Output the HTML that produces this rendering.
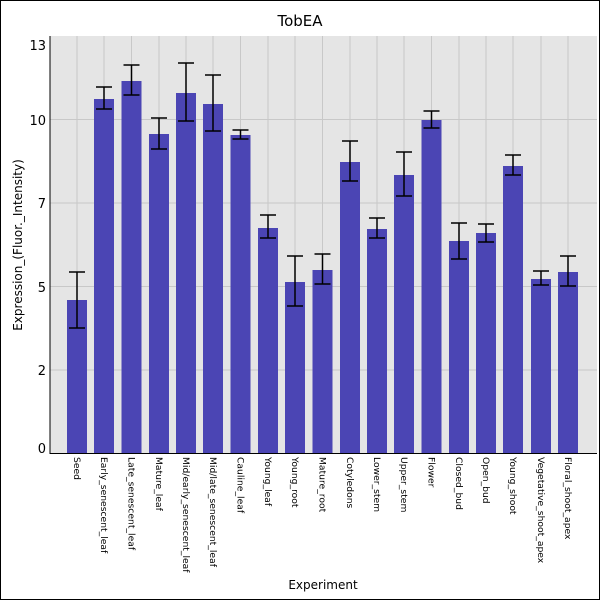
<!DOCTYPE html>
<html><head><meta charset="utf-8"><style>body{margin:0;background:#fff}svg{display:block}</style></head>
<body>
<svg width="600" height="600" xmlns="http://www.w3.org/2000/svg" font-family="DejaVu Sans, Liberation Sans, sans-serif">
<rect x="0.5" y="0.5" width="599" height="599" fill="#fff" stroke="#000"/>
<text x="300" y="26" font-size="15" text-anchor="middle">TobEA</text>
<rect x="50" y="36" width="547" height="417" fill="#e5e5e5"/>
<g stroke="#c8c8c8" stroke-width="1">
<line x1="50" x2="597" y1="119.5" y2="119.5"/><line x1="50" x2="597" y1="203" y2="203"/><line x1="50" x2="597" y1="286.5" y2="286.5"/><line x1="50" x2="597" y1="370" y2="370"/>
<line y1="36" y2="453" x1="77" x2="77"/><line y1="36" y2="453" x1="104" x2="104"/><line y1="36" y2="453" x1="131.5" x2="131.5"/><line y1="36" y2="453" x1="159" x2="159"/><line y1="36" y2="453" x1="186" x2="186"/><line y1="36" y2="453" x1="213" x2="213"/><line y1="36" y2="453" x1="240.5" x2="240.5"/><line y1="36" y2="453" x1="268" x2="268"/><line y1="36" y2="453" x1="295" x2="295"/><line y1="36" y2="453" x1="322.5" x2="322.5"/><line y1="36" y2="453" x1="350" x2="350"/><line y1="36" y2="453" x1="377" x2="377"/><line y1="36" y2="453" x1="404" x2="404"/><line y1="36" y2="453" x1="431.5" x2="431.5"/><line y1="36" y2="453" x1="459" x2="459"/><line y1="36" y2="453" x1="486" x2="486"/><line y1="36" y2="453" x1="513" x2="513"/><line y1="36" y2="453" x1="541" x2="541"/><line y1="36" y2="453" x1="568" x2="568"/>
</g>
<g fill="#4b45b4">
<rect x="67" y="300" width="20" height="153"/><rect x="94" y="99" width="20" height="354"/><rect x="121.5" y="81" width="20" height="372"/><rect x="149" y="134" width="20" height="319"/><rect x="176" y="93" width="20" height="360"/><rect x="203" y="104" width="20" height="349"/><rect x="230.5" y="135" width="20" height="318"/><rect x="258" y="228" width="20" height="225"/><rect x="285" y="282" width="20" height="171"/><rect x="312.5" y="270" width="20" height="183"/><rect x="340" y="162" width="20" height="291"/><rect x="367" y="229" width="20" height="224"/><rect x="394" y="175" width="20" height="278"/><rect x="421.5" y="120" width="20" height="333"/><rect x="449" y="241" width="20" height="212"/><rect x="476" y="233" width="20" height="220"/><rect x="503" y="166" width="20" height="287"/><rect x="531" y="279" width="20" height="174"/><rect x="558" y="272" width="20" height="181"/>
</g>
<g stroke="#000" stroke-width="1.5" fill="none">
<path d="M77 272V328M69 272H85M69 328H85"/>
<path d="M104 87V109M96 87H112M96 109H112"/>
<path d="M131.5 65V95M123.5 65H139.5M123.5 95H139.5"/>
<path d="M159 118V149M151 118H167M151 149H167"/>
<path d="M186 63V121M178 63H194M178 121H194"/>
<path d="M213 75V131M205 75H221M205 131H221"/>
<path d="M240.5 130V139M232.5 130H248.5M232.5 139H248.5"/>
<path d="M268 215V238M260 215H276M260 238H276"/>
<path d="M295 256V306M287 256H303M287 306H303"/>
<path d="M322.5 254V284M314.5 254H330.5M314.5 284H330.5"/>
<path d="M350 141V181M342 141H358M342 181H358"/>
<path d="M377 218V238M369 218H385M369 238H385"/>
<path d="M404 152V196M396 152H412M396 196H412"/>
<path d="M431.5 111V128M423.5 111H439.5M423.5 128H439.5"/>
<path d="M459 223V259M451 223H467M451 259H467"/>
<path d="M486 224V242M478 224H494M478 242H494"/>
<path d="M513 155V175M505 155H521M505 175H521"/>
<path d="M541 271V285M533 271H549M533 285H549"/>
<path d="M568 256V286M560 256H576M560 286H576"/>
</g>
<line x1="50" y1="36" x2="50" y2="454" stroke="#000"/>
<line x1="50" y1="453.5" x2="597" y2="453.5" stroke="#000"/>
<g font-size="13" text-anchor="end">
<text x="46" y="50">13</text><text x="46" y="125">10</text><text x="46" y="208">7</text><text x="46" y="292">5</text><text x="46" y="375">2</text><text x="46" y="453">0</text>
</g>
<text transform="translate(22,245) rotate(-90)" font-size="12" text-anchor="middle">Expression_(Fluor._Intensity)</text>
<text x="323" y="589" font-size="12" text-anchor="middle">Experiment</text>
<g font-size="9.2">
<text transform="translate(74,457) rotate(90)">Seed</text>
<text transform="translate(101,457) rotate(90)">Early_senescent_leaf</text>
<text transform="translate(128.5,457) rotate(90)">Late_senescent_leaf</text>
<text transform="translate(156,457) rotate(90)">Mature_leaf</text>
<text transform="translate(183,457) rotate(90)">Mid/early_senescent_leaf</text>
<text transform="translate(210,457) rotate(90)">Mid/late_senescent_leaf</text>
<text transform="translate(237.5,457) rotate(90)">Cauline_leaf</text>
<text transform="translate(265,457) rotate(90)">Young_leaf</text>
<text transform="translate(292,457) rotate(90)">Young_root</text>
<text transform="translate(319.5,457) rotate(90)">Mature_root</text>
<text transform="translate(347,457) rotate(90)">Cotyledons</text>
<text transform="translate(374,457) rotate(90)">Lower_stem</text>
<text transform="translate(401,457) rotate(90)">Upper_stem</text>
<text transform="translate(428.5,457) rotate(90)">Flower</text>
<text transform="translate(456,457) rotate(90)">Closed_bud</text>
<text transform="translate(483,457) rotate(90)">Open_bud</text>
<text transform="translate(510,457) rotate(90)">Young_shoot</text>
<text transform="translate(538,457) rotate(90)">Vegetative_shoot_apex</text>
<text transform="translate(565,457) rotate(90)">Floral_shoot_apex</text>
</g>
</svg>
</body></html>
